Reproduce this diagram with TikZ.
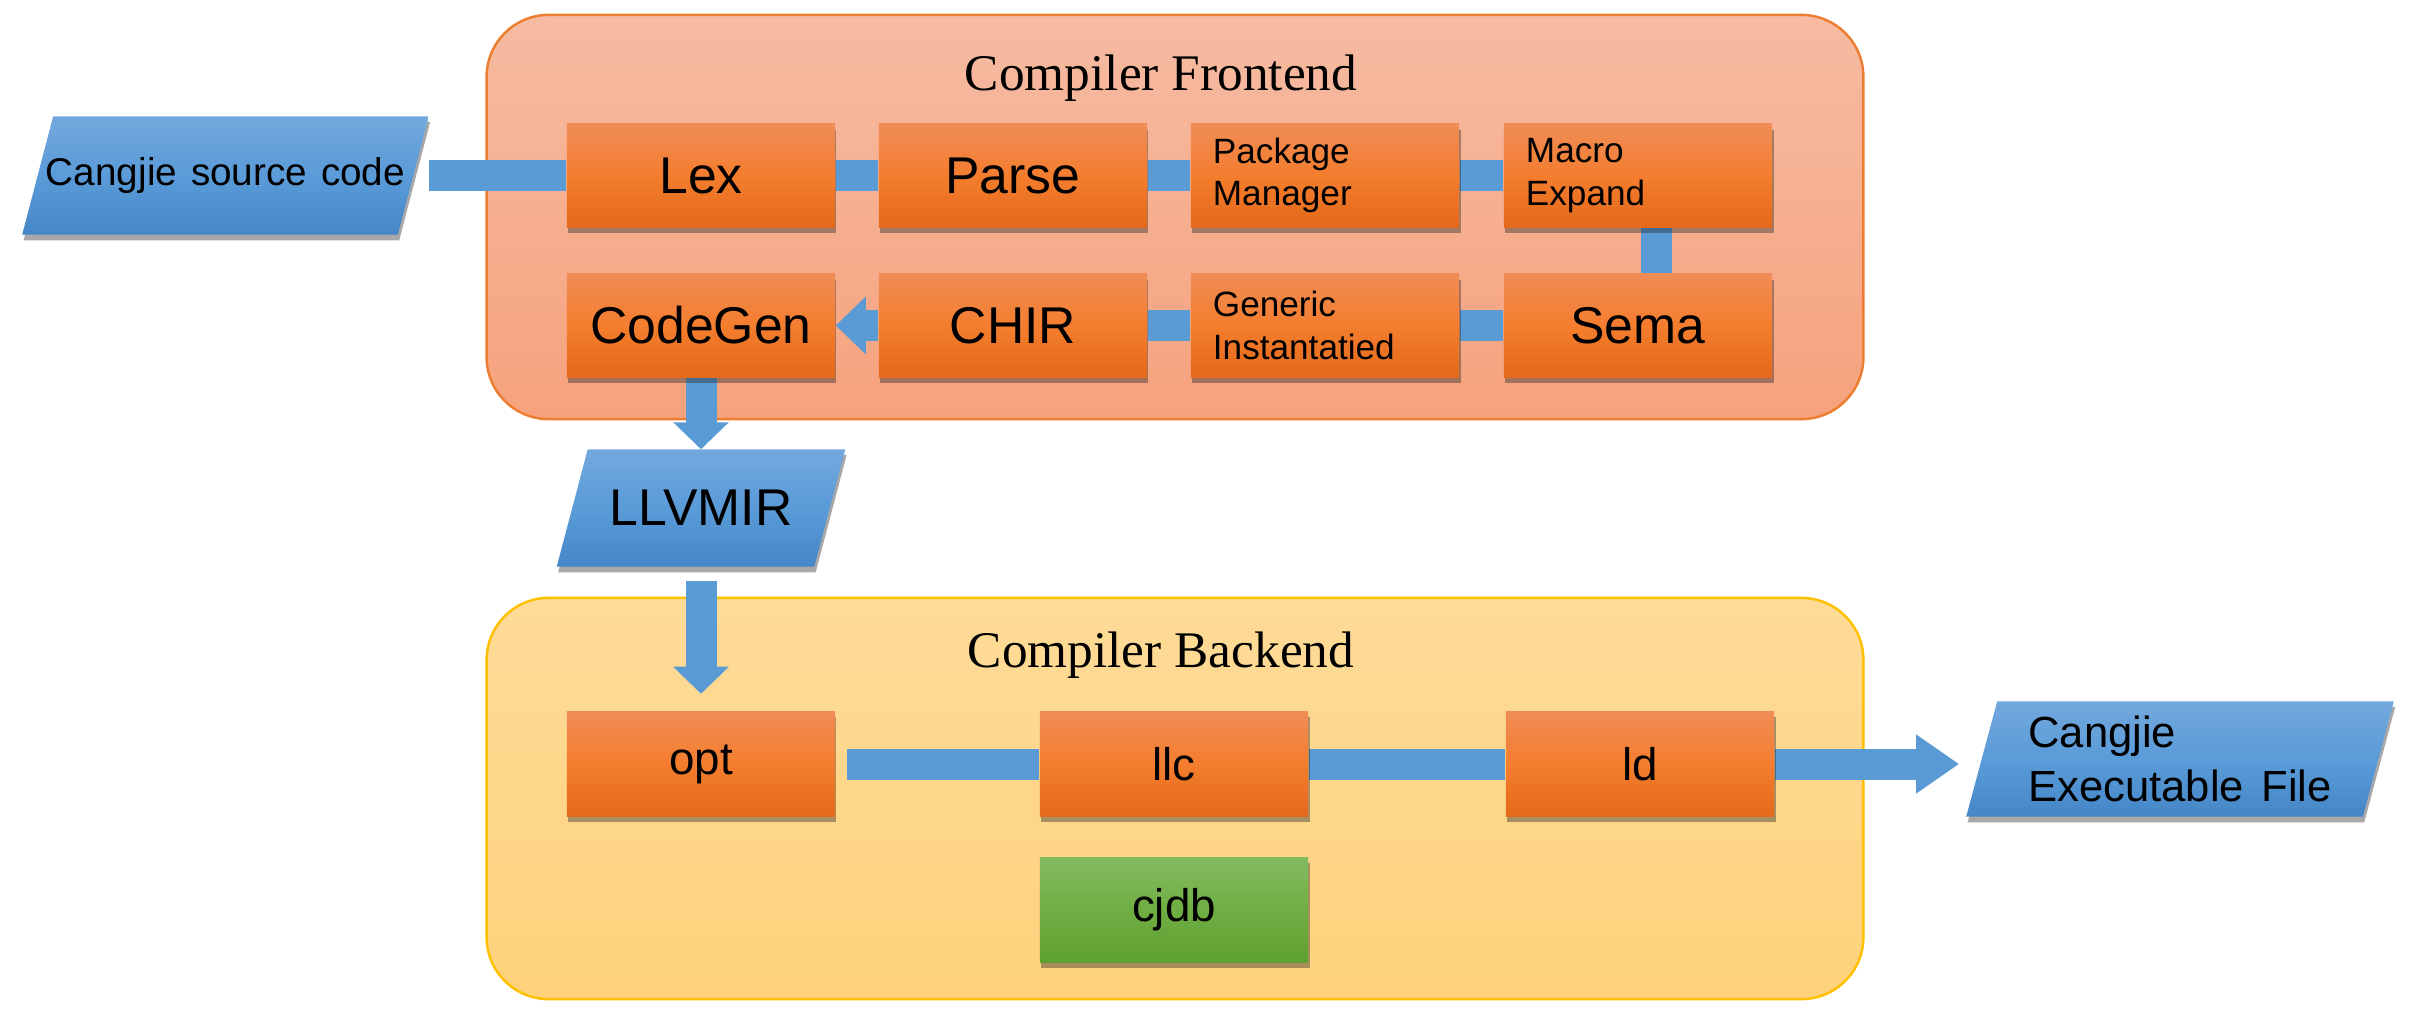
\documentclass[tikz,border=0pt]{standalone}
\usepackage{fontspec}
\setmainfont{Liberation Sans}
\newfontfamily\ttlfont{Liberation Serif}
\usetikzlibrary{arrows.meta,shadows}
\pgfdeclarelayer{bg}
\pgfdeclarelayer{conn}
\pgfsetlayers{bg,conn,main}

\definecolor{fTop}{HTML}{F6BBA2}
\definecolor{fBot}{HTML}{F6A27D}
\definecolor{fBorder}{HTML}{ED7D31}
\definecolor{bTop}{HTML}{FEDB98}
\definecolor{bBot}{HTML}{FED27C}
\definecolor{bBorder}{HTML}{FFC000}
\definecolor{oTop}{HTML}{F08C56}
\definecolor{oMid}{HTML}{F47D2E}
\definecolor{oBot}{HTML}{E4691A}
\definecolor{gTop}{HTML}{84BB62}
\definecolor{gMid}{HTML}{6FAE42}
\definecolor{gBot}{HTML}{5FA032}
\definecolor{pTop}{HTML}{73A8DD}
\definecolor{pMid}{HTML}{5A9BD8}
\definecolor{pBot}{HTML}{4586C8}
\definecolor{barC}{HTML}{5A9AD5}

\tikzset{
  container/.style={rounded corners=0.62cm, minimum width=13.76cm, line width=0.7pt, inner sep=0pt},
  fcont/.style={container, draw=fBorder, top color=fTop, bottom color=fBot, minimum height=4.04cm},
  bcont/.style={container, draw=bBorder, top color=bTop, bottom color=bBot, minimum height=4.01cm},
  ttl/.style={font=\ttlfont\fontsize{14.6}{17}\selectfont, inner sep=0pt},
  sh/.style={drop shadow={shadow xshift=0.4pt, shadow yshift=-1.6pt, opacity=0.4, fill=black!85}},
  box/.style={sh, minimum width=2.68cm, minimum height=1.03cm, inner sep=0pt,
    top color=oTop, bottom color=oBot, middle color=oMid},
  bbox/.style={box, minimum height=1.05cm, font=\fontsize{13}{15}\selectfont},
  gbox/.style={bbox, top color=gTop, bottom color=gBot, middle color=gMid},
  big/.style={font=\fontsize{14.7}{17}\selectfont},
  two/.style={font=\fontsize{10}{12}\selectfont, align=left, text width=2.24cm, inner xsep=0.22cm},
  para/.style={inner sep=0pt},
  parafill/.style={sh, top color=pTop, bottom color=pBot, middle color=pMid},
  bar/.style={draw=barC, line width=0.31cm},
  arr/.style={bar, -{Triangle[width=0.56cm,length=0.3cm]}},
}
\newcommand\paraShape[1]{%
  \path[parafill] ([xshift=0.31cm]#1.north west) -- (#1.north east)
    -- ([xshift=-0.31cm]#1.south east) -- (#1.south west) -- cycle;}

\begin{document}
\begin{tikzpicture}[x=0.01cm,y=-0.01cm]
\useasboundingbox (0,0) rectangle (2424,1018);

% containers
\begin{pgfonlayer}{bg}
  \node[fcont] (front) at (1175,217) {};
  \node[bcont] (back) at (1175,798.5) {};
\end{pgfonlayer}
\node[ttl] (ftitle) at (1161,78) {Compiler Frontend};
\node[ttl] (btitle) at (1161,655) {Compiler Backend};

% inputs / outputs
\node[para, minimum width=4.05cm, minimum height=1.17cm,
  font=\fontsize{11}{13}\selectfont] (src) at (225.5,175.5) {Cangjie\hspace{0.36em}source\hspace{0.36em}code};
\node[para, minimum width=2.87cm, minimum height=1.16cm, big] (llvm) at (701,508) {LLVMIR};
\node[para, minimum width=4.26cm, minimum height=1.14cm, align=left,
  font=\fontsize{12.4}{15.4}\selectfont] (exe) at (2180,759) {Cangjie\\Executable\hspace{0.4em}File};

% frontend row 1
\node[box, big] (lex) at (701,175.5) {Lex};
\node[box, big] (parse) at (1013,175.5) {Parse};
\node[box, two] (pkg) at (1325,175.5) {Package\\Manager};
\node[box, two] (macro) at (1638,175.5) {Macro\\Expand};
% frontend row 2
\node[box, big] (codegen) at (701,325.5) {CodeGen};
\node[box, big] (chir) at (1013,325.5) {CHIR};
\node[box, two] (gen) at (1325,325.5) {Generic\\Instantatied};
\node[box, big] (sema) at (1638,325.5) {Sema};

% backend
\node[bbox] (opt) at (701,764) {opt};
\node[bbox] (llc) at (1174,764) {llc};
\node[bbox] (ld) at (1640,764) {ld};
\node[gbox] (cjdb) at (1174,910) {cjdb};

% connectors and parallelogram bodies
\begin{pgfonlayer}{conn}
  \paraShape{src}
  \paraShape{llvm}
  \paraShape{exe}
  \draw[bar] (src.east) -- (lex.west);
  \draw[bar] (lex.east) -- (parse.west);
  \draw[bar] (parse.east) -- (pkg.west);
  \draw[bar] (pkg.east) -- (macro.west);
  \draw[bar] ([xshift=0.18cm]macro.south) -- ([xshift=0.18cm]sema.north);
  \draw[bar] (sema.west) -- (gen.east);
  \draw[bar] (gen.west) -- (chir.east);
  \draw[arr] (chir.west) -- (codegen.east);
  \draw[arr, -{Triangle[width=0.54cm,length=0.27cm]}] (codegen.south) -- (llvm.north);
  \draw[arr, -{Triangle[width=0.54cm,length=0.27cm]}, shorten <=0.14cm, shorten >=0.17cm] (llvm.south) -- (opt.north);
  \draw[bar, shorten <=0.11cm] (opt.east) -- (llc.west);
  \draw[bar] (llc.east) -- (ld.west);
  \draw[bar, -{Triangle[width=0.56cm,length=0.43cm]}, shorten >=0.07cm] (ld.east) -- (ld.east -| exe.west);
\end{pgfonlayer}
\end{tikzpicture}
\end{document}
